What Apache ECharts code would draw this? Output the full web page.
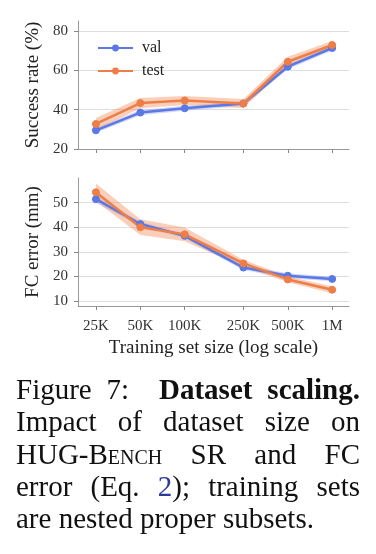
<!DOCTYPE html>
<html lang="en">
<head>
    <meta charset="UTF-8">
    <title>Dataset scaling</title>
    <style>
        html, body { margin: 0; padding: 0; background: #fff; }
        #chart { position: absolute; left: 0; top: 0; width: 376px; height: 554px; }
        #caption {
            position: absolute; left: 16px; top: 373px; width: 344px;
            font-family: 'Liberation Serif', serif; font-size: 29px; line-height: 32.25px; color: #111;
        }
        #caption div { text-align: justify; text-align-last: justify; white-space: nowrap; }
        #caption div.last { text-align: left; text-align-last: left; }
        .sc { font-variant: small-caps; }
        .ref { color: #2a3a9c; }
    </style>
</head>
<body>
    <div id="chart"></div>
    <div id="caption">
        <div>Figure 7: &nbsp;<b>Dataset scaling.</b></div>
        <div>Impact of dataset size on</div>
        <div>HUG-<span class="sc">Bench</span> SR and FC</div>
        <div>error (Eq. <span class="ref">2</span>); training sets</div>
        <div class="last">are nested proper subsets.</div>
    </div>
    <script src="https://cdn.jsdelivr.net/npm/echarts@6/dist/echarts.min.js"></script>
    <script>
        // 训练集大小 (对数坐标)
        var sizes = [25000, 50000, 100000, 250000, 500000, 1000000];
        var sizeLabels = ['25K', '50K', '100K', '250K', '500K', '1M'];

        // 成功率 (%)
        var srVal = [29.5, 38.5, 40.7, 43.1, 61.8, 71.3];
        var srTest = [32.7, 43.3, 44.6, 43.1, 64.3, 72.8];
        var srValErr = [1.3, 1.3, 1.3, 1.3, 1.3, 1.3];
        var srTestErr = [3.0, 2.6, 2.3, 2.3, 2.6, 2.0];
        var srTicks = [20, 40, 60, 80];

        // FC 误差 (mm)
        var fcVal = [51.4, 41.3, 36.5, 23.6, 20.3, 19.0];
        var fcTest = [54.2, 40.0, 37.1, 25.3, 18.8, 14.6];
        var fcValErr = [1.5, 0.9, 1.0, 1.0, 1.0, 0.9];
        var fcTestErr = [3.6, 3.2, 2.8, 1.5, 1.2, 1.4];
        var fcTicks = [10, 20, 30, 40, 50];

        var blue = '#5a78e6';
        var orange = '#ee7e48';
        var font = 'Liberation Serif';

        function pairs(ys) {
            return sizes.map(function (x, i) { return [x, ys[i]]; });
        }

        // 误差带: 用 custom 系列画一个多边形 (上界 -> 下界)
        function band(ys, errs, idx, color) {
            var data = sizes.map(function (x, i) { return [x, ys[i] - errs[i], ys[i] + errs[i]]; });
            return {
                type: 'custom', xAxisIndex: idx, yAxisIndex: idx, silent: true, z: 1,
                data: data,
                renderItem: function (params, api) {
                    if (params.dataIndex !== 0) return null;
                    var pts = [];
                    data.forEach(function (d) { pts.push(api.coord([d[0], d[2]])); });
                    data.slice().reverse().forEach(function (d) { pts.push(api.coord([d[0], d[1]])); });
                    return { type: 'polygon', shape: { points: pts }, style: { fill: color } };
                }
            };
        }

        function line(name, ys, idx, color) {
            return {
                name: name, type: 'line', xAxisIndex: idx, yAxisIndex: idx,
                data: pairs(ys), symbol: 'circle', symbolSize: 7,
                lineStyle: { width: 2.5, color: color },
                itemStyle: { color: color, borderColor: color, borderWidth: 1 },
                z: 3
            };
        }

        function xAxis(idx, showLabels) {
            return {
                type: 'log', logBase: 10, gridIndex: idx, min: 18900, max: 1300000,
                axisLine: { show: true, lineStyle: { color: '#999', width: 1 } },
                axisTick: { show: true, customValues: sizes, length: 4, lineStyle: { color: '#888' } },
                axisLabel: {
                    show: showLabels, customValues: sizes, margin: 13,
                    fontFamily: font, fontSize: 15, color: '#333',
                    formatter: function (v) { return sizeLabels[sizes.indexOf(v)] || ''; }
                },
                splitLine: { show: false }, minorTick: { show: false },
                name: showLabels ? 'Training set size (log scale)' : '',
                nameLocation: 'middle', nameGap: 33,
                nameTextStyle: { fontFamily: font, fontSize: 19, color: '#222' }
            };
        }

        function yAxis(idx, min, max, ticks, name) {
            return {
                type: 'value', gridIndex: idx, min: min, max: max,
                axisLine: { show: true, lineStyle: { color: '#999', width: 1 } },
                axisTick: { show: true, customValues: ticks, length: 4, lineStyle: { color: '#888' } },
                axisLabel: { customValues: ticks, margin: 10, fontFamily: font, fontSize: 15, color: '#333' },
                splitLine: { show: true, customValues: ticks, lineStyle: { color: '#dedede', width: 1 } },
                name: name, nameLocation: 'middle', nameGap: 35,
                nameTextStyle: { fontFamily: font, fontSize: 19, color: '#222' }
            };
        }

        var myChart = echarts.init(document.getElementById('chart'));
        var option = {
            animation: false,
            backgroundColor: '#fff',
            grid: [
                { left: 78, top: 21, width: 271, height: 128 },
                { left: 78, top: 178, width: 271, height: 128 }
            ],
            legend: {
                data: ['val', 'test'], orient: 'vertical', left: 92, top: 35,
                itemWidth: 35, itemHeight: 6, itemGap: 7,
                textStyle: { fontFamily: font, fontSize: 16, color: '#222', padding: [0, 0, 0, 4] }
            },
            xAxis: [xAxis(0, false), xAxis(1, true)],
            yAxis: [
                yAxis(0, 20, 85, srTicks, 'Success rate (%)'),
                yAxis(1, 8, 60, fcTicks, 'FC error (mm)')
            ],
            series: [
                band(srVal, srValErr, 0, 'rgba(90,120,230,0.28)'),
                band(srTest, srTestErr, 0, 'rgba(240,140,90,0.42)'),
                band(fcVal, fcValErr, 1, 'rgba(90,120,230,0.28)'),
                band(fcTest, fcTestErr, 1, 'rgba(240,140,90,0.42)'),
                line('val', srVal, 0, blue),
                line('test', srTest, 0, orange),
                line('val', fcVal, 1, blue),
                line('test', fcTest, 1, orange)
            ]
        };
        myChart.setOption(option);
    </script>
</body>
</html>
